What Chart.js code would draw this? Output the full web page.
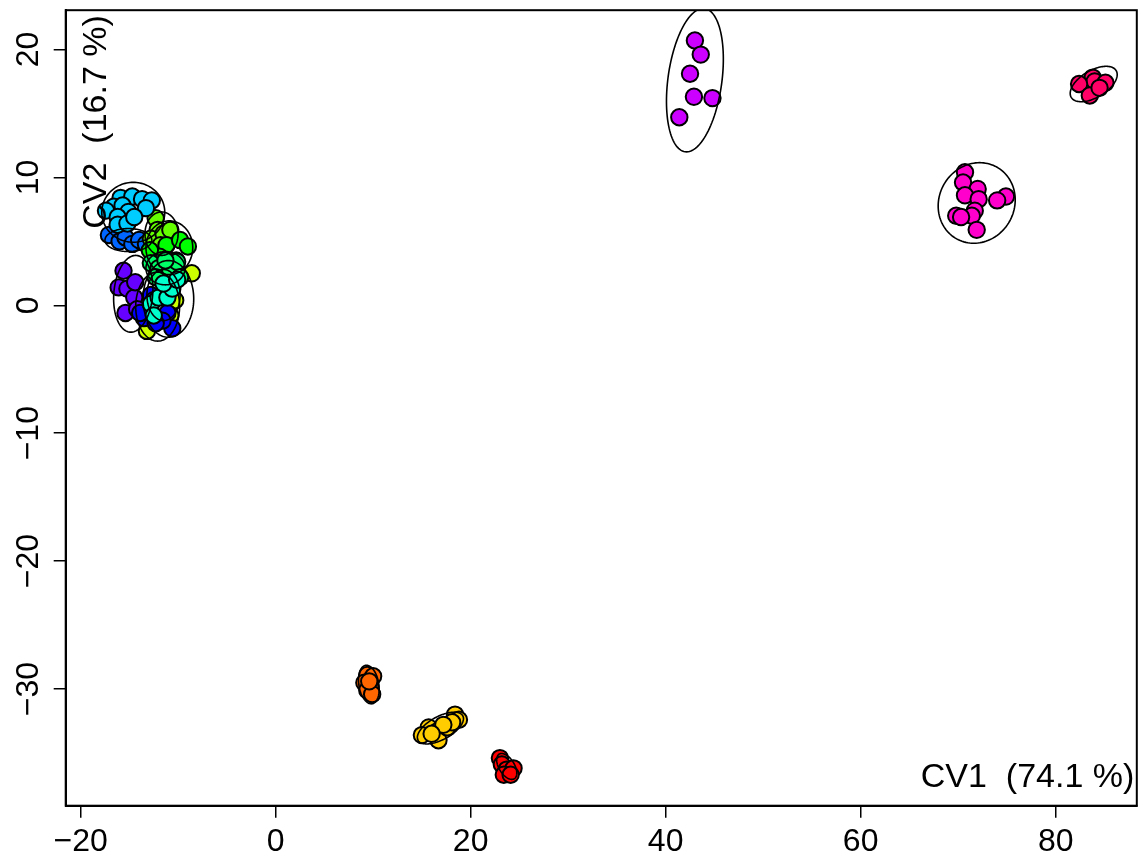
<!DOCTYPE html>
<html>
<head>
<meta charset="utf-8">
<script src="https://cdn.jsdelivr.net/npm/chart.js@4.4.1/dist/chart.umd.min.js"></script>
<style>
  html, body { margin: 0; padding: 0; background: #fff; }
  #wrap { width: 1147px; height: 856px; }
</style>
</head>
<body>
<div id="wrap"><canvas id="cva"></canvas></div>
<script>
// groups and their canonical scores (CV1, CV2)
const groups = ['red', 'orange', 'gold', 'lime', 'chartreuse', 'green', 'spring', 'aqua',
                'sky', 'azure', 'blue', 'violet', 'purple', 'magenta', 'rose'];

const cv1 = [
    [23.0, 23.2, 23.7, 24.4, 23.4, 24.1],
    [9.4, 10.0, 9.1, 9.7, 9.4, 9.9, 9.6],
    [15.7, 15.0, 16.6, 16.7, 17.6, 18.4, 18.8, 18.1, 17.2, 16.0],
    [-8.6, -13.2, -11.3, -10.3, -11.8, -10.8],
    [-12.3, -12.1, -12.8, -11.5, -10.8, -11.8],
    [-11.2, -9.8, -9.0, -11.9, -10.2, -12.9],
    [-12.8, -12.0, -10.8, -10.1, -11.3, -12.3, -9.8],
    [-12.8, -12.0, -12.5, -11.1, -10.6, -11.5, -10.1],
    [-15.9, -14.7, -13.7, -12.7, -16.6, -15.7, -15.1, -13.3, -17.4, -16.2, -16.2, -15.2, -14.5],
    [-17.1, -16.0, -15.4, -14.7, -14.0, -13.3],
    [-12.8, -12.5, -11.1, -10.6, -11.6, -13.5, -12.3, -13.9],
    [-15.6, -16.1, -15.2, -14.5, -15.4, -14.4, -14.2],
    [43.0, 43.6, 42.5, 42.9, 44.8, 41.4],
    [70.7, 70.5, 72.0, 70.7, 72.1, 74.9, 74.0, 71.7, 71.4, 69.8, 70.3, 71.9],
    [83.8, 84.0, 85.1, 82.4, 83.5, 84.5]
];

const cv2 = [
    [-35.4, -35.9, -36.3, -36.2, -36.7, -36.7],
    [-28.9, -29.0, -29.5, -29.8, -30.1, -30.4, -29.4],
    [-33.0, -33.6, -33.3, -34.0, -33.0, -32.0, -32.4, -32.6, -32.8, -33.5],
    [2.5, -2.0, 1.6, 0.4, 2.7, -0.8],
    [6.8, 5.9, 5.2, 5.6, 5.9, 4.7],
    [4.7, 5.1, 4.6, 3.8, 3.5, 4.3],
    [3.3, 2.9, 2.7, 3.4, 3.5, 2.2, 2.2],
    [0.1, 0.6, -0.8, 0.6, 1.3, 1.7, 2.0],
    [8.4, 8.5, 8.3, 8.2, 7.7, 7.8, 7.3, 7.6, 7.4, 6.9, 6.3, 6.4, 6.9],
    [5.5, 5.0, 5.3, 4.8, 5.1, 4.8],
    [0.8, 0.4, -0.6, -1.8, -1.2, -1.0, -1.4, -0.6],
    [2.7, 1.4, 1.3, 0.6, -0.6, 1.8, -0.3],
    [20.7, 19.6, 18.1, 16.3, 16.2, 14.7],
    [10.4, 9.6, 9.1, 8.6, 8.3, 8.5, 8.2, 7.4, 7.0, 7.0, 6.9, 5.9],
    [17.8, 17.5, 17.4, 17.3, 16.4, 17.0]
];

// confidence ellipses: centre and the two semi-axis vectors, in score units
// [cx, cy, ax, ay, bx, by]
const ellipses = [
    [23.7, -36.05, 0.8, -0.95, 0.65, 0.35],
    [9.56, -29.65, 0.35, -1.5, 1.0, 0.15],
    [16.9, -33.05, 2.3, 0.95, 0.55, -0.8],
    [-11.0, 0.5, 2.6, 0, 0, 3.0],
    [-11.7, 5.6, 1.7, 0, 0, 1.7],
    [-10.9, 4.5, 2.4, 0, 0, 2.1],
    [-11.3, 2.9, 2.0, 0, 0, 1.3],
    [-11.5, 0.8, 1.7, 0, 0, 2.0],
    [-14.6, 7.27, 3.23, 0, 0, 2.34],
    [-15.1, 5.1, 2.4, 0, 0, 0.9],
    [-12.1, -0.1, 2.25, 0, 0, 2.7],
    [-14.6, 0.9, 2.0, 0, 0.25, 3.0],
    [43.0, 17.6, 1.0, 5.6, 2.74, -0.29],
    [71.9, 8.0, 0.3, 3.15, 3.94, 0],
    [83.9, 17.3, 2.3, 1.05, 0.72, -0.9]
];

const xTicks = [-20, 0, 20, 40, 60, 80];
const yTicks = [-30, -20, -10, 0, 10, 20];
const xTitle = 'CV1  (74.1 %)';
const yTitle = 'CV2  (16.7 %)';

const palette = ['#FF0000', '#FF6600', '#FFCC00', '#CCFF00', '#66FF00', '#00FF00', '#00FF66', '#00FFCC',
                 '#00CCFF', '#0066FF', '#0000FF', '#6600FF', '#CC00FF', '#FF00CC', '#FF0066'];

// which groups sit underneath in the crowded cluster (bottom first)
const stacking = ['lime', 'violet', 'azure', 'chartreuse', 'green', 'spring', 'blue', 'aqua', 'sky'];

const FONT = '"Liberation Sans", Arial, Helvetica, sans-serif';
const fmt = v => (v < 0 ? '\u2212' + Math.abs(v) : String(v));

const datasets = groups.map((g, i) => {
    const s = stacking.indexOf(g);
    return {
        label: g,
        data: cv1[i].map((x, k) => ({ x: x, y: cv2[i][k] })),
        backgroundColor: palette[i],
        borderColor: '#000',
        borderWidth: 2,
        pointRadius: 8.2,
        pointHoverRadius: 8.2,
        order: s < 0 ? 0 : 100 - s
    };
});

const ellipsePlugin = {
    id: 'ellipses',
    afterDatasetsDraw(chart) {
        const { ctx, chartArea: a, scales: { x, y } } = chart;
        ctx.save();
        ctx.beginPath();
        ctx.rect(a.left, a.top, a.right - a.left, a.bottom - a.top);
        ctx.clip();
        ctx.strokeStyle = '#000';
        ctx.lineWidth = 1.6;
        ellipses.forEach(e => {
            ctx.beginPath();
            for (let k = 0; k <= 120; k++) {
                const t = k / 120 * Math.PI * 2;
                const px = x.getPixelForValue(e[0] + e[2] * Math.cos(t) + e[4] * Math.sin(t));
                const py = y.getPixelForValue(e[1] + e[3] * Math.cos(t) + e[5] * Math.sin(t));
                if (k === 0) ctx.moveTo(px, py); else ctx.lineTo(px, py);
            }
            ctx.closePath();
            ctx.stroke();
        });
        ctx.restore();
    }
};

const framePlugin = {
    id: 'frame',
    afterDraw(chart) {
        const { ctx, chartArea: a, scales: { y } } = chart;
        ctx.save();
        ctx.strokeStyle = '#000';
        ctx.lineWidth = 2;
        ctx.strokeRect(a.left, a.top, a.right - a.left, a.bottom - a.top);

        // y tick labels, turned like base R axes
        ctx.fillStyle = '#000';
        ctx.font = '32px ' + FONT;
        ctx.textAlign = 'center';
        ctx.textBaseline = 'alphabetic';
        yTicks.forEach(v => {
            ctx.save();
            ctx.translate(38, y.getPixelForValue(v));
            ctx.rotate(-Math.PI / 2);
            ctx.fillText(fmt(v), 0, 0);
            ctx.restore();
        });

        // axis titles inside the frame
        ctx.font = '34px ' + FONT;
        ctx.textAlign = 'right';
        ctx.fillText(xTitle, a.right - 2.5, a.bottom - 19);
        ctx.save();
        ctx.translate(a.left + 40, a.top + 5);
        ctx.rotate(-Math.PI / 2);
        ctx.textAlign = 'right';
        ctx.fillText(yTitle, 0, 0);
        ctx.restore();
        ctx.restore();
    }
};

new Chart(document.getElementById('cva'), {
    type: 'scatter',
    data: { datasets: datasets },
    options: {
        responsive: true,
        maintainAspectRatio: false,
        animation: false,
        layout: { padding: { top: 10, right: 6.3, left: 0, bottom: 0 } },
        plugins: {
            legend: { display: false },
            tooltip: { enabled: false }
        },
        scales: {
            x: {
                type: 'linear',
                position: 'bottom',
                min: -21.53,
                max: 88.32,
                afterBuildTicks: s => { s.ticks = xTicks.map(v => ({ value: v })); },
                afterFit: s => { s.height = 50.3; },
                ticks: {
                    color: '#000',
                    font: { family: FONT, size: 32 },
                    padding: 5,
                    maxRotation: 0,
                    callback: v => fmt(v)
                },
                grid: { drawOnChartArea: false, drawTicks: true, tickLength: 12, color: '#000', lineWidth: 1.5 },
                border: { display: true, color: '#000', width: 2 }
            },
            y: {
                type: 'linear',
                position: 'left',
                min: -39.12,
                max: 23.07,
                afterBuildTicks: s => { s.ticks = yTicks.map(v => ({ value: v })); },
                afterFit: s => { s.width = 65.7; },
                ticks: { display: false },
                grid: { drawOnChartArea: false, drawTicks: true, tickLength: 12, color: '#000', lineWidth: 1.5 },
                border: { display: true, color: '#000', width: 2 }
            }
        }
    },
    plugins: [ellipsePlugin, framePlugin]
});
</script>
</body>
</html>
